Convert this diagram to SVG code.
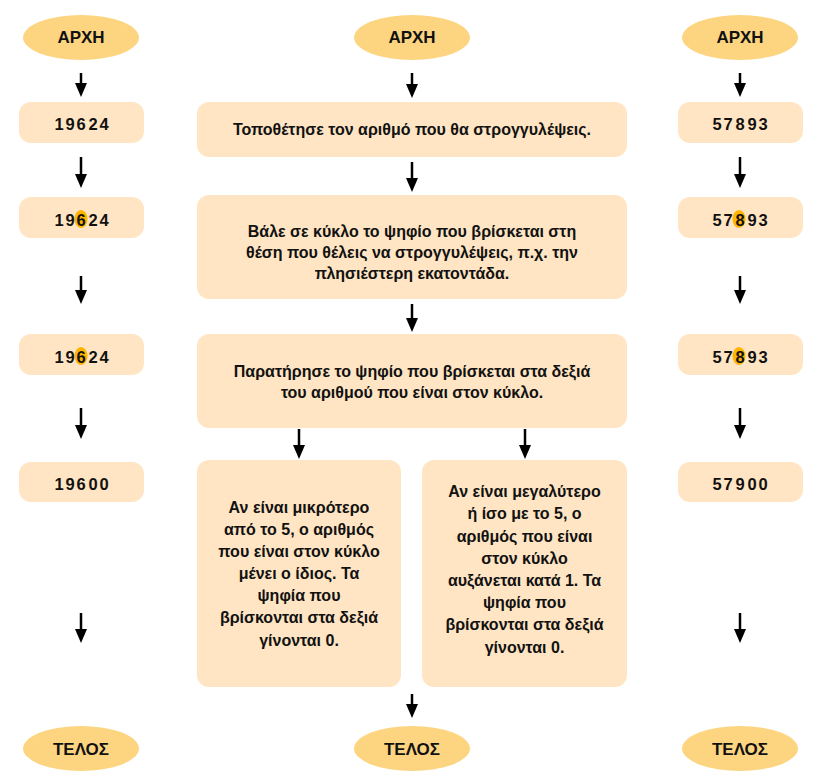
<svg xmlns="http://www.w3.org/2000/svg" width="818" height="775" viewBox="0 0 818 775">
<defs>
<style>
.term{fill:#FDD581;}
.box{fill:#FFE5C3;}
.hl{fill:#FFB400;}
text{font-family:"Liberation Sans",Arial,sans-serif;font-weight:bold;fill:#111;}
.tt{font-size:17px;text-anchor:middle;}
.num{font-size:16.5px;text-anchor:middle;}
.tx{font-size:16px;text-anchor:middle;}
.arr{stroke:#000;stroke-width:2.5;fill:none;marker-end:url(#ah);}
</style>
<marker id="ah" markerWidth="14" markerHeight="12" refX="4" refY="6" orient="auto" markerUnits="userSpaceOnUse">
<path d="M0,0 L14,6 L0,12 z" fill="#000"/>
</marker>
</defs>
<rect width="818" height="775" fill="#fff"/>

<g id="connectors">
<line class="arr" x1="81" y1="73" x2="81" y2="87"/>
<line class="arr" x1="81" y1="157" x2="81" y2="178"/>
<line class="arr" x1="81" y1="276" x2="81" y2="294"/>
<line class="arr" x1="81" y1="408" x2="81" y2="429"/>
<line class="arr" x1="81" y1="613" x2="81" y2="633"/>
<line class="arr" x1="740" y1="73" x2="740" y2="87"/>
<line class="arr" x1="740" y1="157" x2="740" y2="178"/>
<line class="arr" x1="740" y1="276" x2="740" y2="294"/>
<line class="arr" x1="740" y1="408" x2="740" y2="429"/>
<line class="arr" x1="740" y1="613" x2="740" y2="633"/>
<line class="arr" x1="412" y1="73" x2="412" y2="88"/>
<line class="arr" x1="412" y1="162" x2="412" y2="182"/>
<line class="arr" x1="412" y1="304" x2="412" y2="322"/>
<line class="arr" x1="299" y1="429" x2="299" y2="449"/>
<line class="arr" x1="525" y1="429" x2="525" y2="449"/>
<line class="arr" x1="412" y1="694" x2="412" y2="708"/>
</g>

<g id="start-left"><ellipse class="term" cx="81" cy="37.5" rx="58" ry="22.5"/><text class="tt" x="81" y="43">ΑΡΧΗ</text></g>
<g id="start-mid"><ellipse class="term" cx="412" cy="37.5" rx="58" ry="22.5"/><text class="tt" x="412" y="43">ΑΡΧΗ</text></g>
<g id="start-right"><ellipse class="term" cx="740" cy="37.5" rx="58" ry="22.5"/><text class="tt" x="740" y="43">ΑΡΧΗ</text></g>

<g id="left-1"><rect class="box" x="19" y="102" width="125" height="41" rx="12"/><text class="num" x="59 70 81 93 104" y="130">19624</text></g>
<g id="left-2"><rect class="box" x="19" y="197" width="125" height="41" rx="12"/><ellipse class="hl" cx="81" cy="219" rx="6.5" ry="9"/><text class="num" x="59 70 81 93 104" y="226">19624</text></g>
<g id="left-3"><rect class="box" x="19" y="334" width="125" height="41" rx="12"/><ellipse class="hl" cx="81" cy="356" rx="6.5" ry="9"/><text class="num" x="59 70 81 93 104" y="363">19624</text></g>
<g id="left-4"><rect class="box" x="19" y="462" width="125" height="40" rx="12"/><text class="num" x="59 70 81 93 104" y="490">19600</text></g>

<g id="right-1"><rect class="box" x="678" y="102" width="125" height="41" rx="12"/><text class="num" x="717 728 740 752 763" y="130">57893</text></g>
<g id="right-2"><rect class="box" x="678" y="197" width="125" height="41" rx="12"/><ellipse class="hl" cx="739" cy="219" rx="6.5" ry="9"/><text class="num" x="717 728 740 752 763" y="226">57893</text></g>
<g id="right-3"><rect class="box" x="678" y="334" width="125" height="41" rx="12"/><ellipse class="hl" cx="739" cy="356" rx="6.5" ry="9"/><text class="num" x="717 728 740 752 763" y="363">57893</text></g>
<g id="right-4"><rect class="box" x="678" y="462" width="125" height="40" rx="12"/><text class="num" x="717 728 740 752 763" y="490">57900</text></g>

<g id="mid-1"><rect class="box" x="197" y="102" width="430" height="55" rx="12"/><text class="tx" x="412" y="135">Τοποθέτησε τον αριθμό που θα στρογγυλέψεις.</text></g>
<g id="mid-2"><rect class="box" x="197" y="195" width="430" height="104" rx="12"/>
<text class="tx" x="412" y="237">Βάλε σε κύκλο το ψηφίο που βρίσκεται στη</text>
<text class="tx" x="412" y="258">θέση που θέλεις να στρογγυλέψεις, π.χ. την</text>
<text class="tx" x="412" y="279">πλησιέστερη εκατοντάδα.</text></g>
<g id="mid-3"><rect class="box" x="197" y="334" width="430" height="94" rx="12"/>
<text class="tx" x="412" y="377">Παρατήρησε το ψηφίο που βρίσκεται στα δεξιά</text>
<text class="tx" x="412" y="398">του αριθμού που είναι στον κύκλο.</text></g>
<g id="mid-less"><rect class="box" x="197" y="460" width="204" height="227" rx="12"/>
<text class="tx" x="299" y="513">Αν είναι μικρότερο</text>
<text class="tx" x="299" y="535">από το 5, ο αριθμός</text>
<text class="tx" x="299" y="557">που είναι στον κύκλο</text>
<text class="tx" x="299" y="579">μένει ο ίδιος. Τα</text>
<text class="tx" x="299" y="601">ψηφία που</text>
<text class="tx" x="299" y="623">βρίσκονται στα δεξιά</text>
<text class="tx" x="299" y="646">γίνονται 0.</text></g>
<g id="mid-more"><rect class="box" x="422" y="460" width="205" height="227" rx="12"/>
<text class="tx" x="524.5" y="497">Αν είναι μεγαλύτερο</text>
<text class="tx" x="524.5" y="519">ή ίσο με το 5, ο</text>
<text class="tx" x="524.5" y="542">αριθμός που είναι</text>
<text class="tx" x="524.5" y="564">στον κύκλο</text>
<text class="tx" x="524.5" y="586">αυξάνεται κατά 1. Τα</text>
<text class="tx" x="524.5" y="608">ψηφία που</text>
<text class="tx" x="524.5" y="630">βρίσκονται στα δεξιά</text>
<text class="tx" x="524.5" y="653">γίνονται 0.</text></g>

<g id="end-left"><ellipse class="term" cx="81" cy="748.5" rx="58" ry="22.5"/><text class="tt" x="81" y="755">ΤΕΛΟΣ</text></g>
<g id="end-mid"><ellipse class="term" cx="412" cy="748.5" rx="58" ry="22.5"/><text class="tt" x="412" y="755">ΤΕΛΟΣ</text></g>
<g id="end-right"><ellipse class="term" cx="740" cy="748.5" rx="58" ry="22.5"/><text class="tt" x="740" y="755">ΤΕΛΟΣ</text></g>
</svg>
